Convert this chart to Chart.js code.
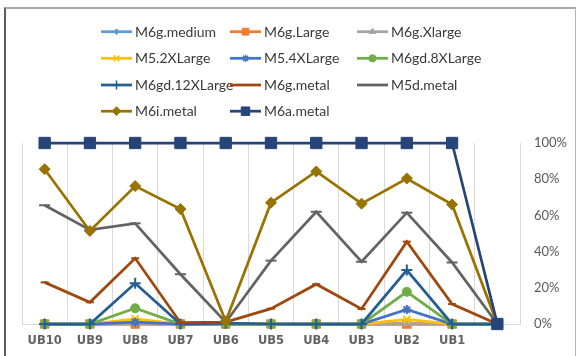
<!DOCTYPE html>
<html>
<head>
<meta charset="utf-8">
<script src="https://cdn.jsdelivr.net/npm/chart.js@4/dist/chart.umd.min.js"></script>
<style>
  html, body { margin: 0; padding: 0; background: #fff; overflow: hidden; }
  #wrap { position: relative; width: 576px; height: 356px; }
  #c { position: absolute; left: 0; top: 0; }
  #frame {
    position: absolute; left: 4px; top: 7px; width: 569px; height: 360px;
    border-left: 2px solid #5e5e5e; border-top: 2px solid #a8a8a8; border-right: 1px solid #b4b4b4;
    pointer-events: none;
  }
</style>
</head>
<body>
<div id="wrap">
  <canvas id="c" width="576" height="356"></canvas>
  <div id="frame"></div>
</div>
<script>
// Categories (last slot intentionally unlabeled)
const categories = ['UB10', 'UB9', 'UB8', 'UB7', 'UB6', 'UB5', 'UB4', 'UB3', 'UB2', 'UB1', ''];

// Share per instance type, in percent
const m6gMedium    = [0, 0, 0, 0, 0, 0, 0, 0, 0, 0, 0];
const m6gLarge     = [0, 0, 0, 0, 0, 0, 0, 0, 0, 0, 0];
const m6gXlarge    = [0, 0, 0.5, 0, 0, 0, 0, 0, 0.5, 0, 0];
const m52XLarge    = [0, 0, 2.8, 0, 0, 0, 0, 0, 2.5, 0, 0];
const m54XLarge    = [0, 0, 1, 0, 0, 0, 0, 0, 8, 0, 0];
const m6gd8XLarge  = [0, 0, 8.7, 0, 0, 0, 0, 0, 17.8, 0, 0];
const m6gd12XLarge = [0, 0, 22.5, 0, 0.5, 0, 0, 0, 29.8, 0, 0];
const m6gMetal     = [23, 12, 36.3, 0.7, 1, 8.5, 22, 8.3, 45.5, 11, 0];
const m5dMetal     = [65.6, 52, 55.6, 27.5, 1, 35, 62, 34.4, 61.5, 34, 0];
const m6iMetal     = [85.5, 51.4, 76.2, 63.5, 1.5, 67, 84.3, 66.5, 80.4, 66, 0];
const m6aMetal     = [100, 100, 100, 100, 100, 100, 100, 100, 100, 100, 0];

// Y-axis tick values
const yTicks = [0, 20, 40, 60, 80, 100];

const seriesDefs = [
  { label: 'M6g.medium',    data: m6gMedium,    color: '#5B9BD5', style: 'rectRot',  r: 3.5 },
  { label: 'M6g.Large',     data: m6gLarge,     color: '#ED7D31', style: 'rect',     r: 6 },
  { label: 'M6g.Xlarge',    data: m6gXlarge,    color: '#A5A5A5', style: 'triangle', r: 4.5 },
  { label: 'M5.2XLarge',    data: m52XLarge,    color: '#FFC000', style: 'crossRot', r: 5 },
  { label: 'M5.4XLarge',    data: m54XLarge,    color: '#4472C4', style: 'star',     r: 4.5 },
  { label: 'M6gd.8XLarge',  data: m6gd8XLarge,  color: '#70AD47', style: 'circle',   r: 4.5 },
  { label: 'M6gd.12XLarge', data: m6gd12XLarge, color: '#255E91', style: 'cross',    r: 5.5 },
  { label: 'M6g.metal',     data: m6gMetal,     color: '#9E480E', style: 'line',     r: 4 },
  { label: 'M5d.metal',     data: m5dMetal,     color: '#636363', style: 'line',     r: 5.5 },
  { label: 'M6i.metal',     data: m6iMetal,     color: '#997300', style: 'rectRot',  r: 5.5 },
  { label: 'M6a.metal',     data: m6aMetal,     color: '#264478', style: 'rect',     r: 8 }
];

const thinStyles = ['cross', 'crossRot', 'star', 'line'];

const datasets = seriesDefs.map((s, i) => ({
  label: s.label,
  data: s.data,
  borderColor: s.color,
  backgroundColor: s.color,
  borderWidth: 2.75,
  pointStyle: s.style,
  pointRadius: s.r,
  pointBorderWidth: thinStyles.includes(s.style) ? 2 : 1,
  pointBackgroundColor: s.color,
  pointBorderColor: s.color,
  tension: 0,
  clip: false,
  order: seriesDefs.length - 1 - i
}));

// Three-column legend drawn across the top
const gridLegend = {
  id: 'gridLegend',
  afterDraw(chart) {
    const ctx = chart.ctx;
    const colX = [101, 230, 357];
    const rowY = [31.7, 58.3, 85, 111.2];
    const sampleLen = 31;
    ctx.save();
    seriesDefs.forEach((s, i) => {
      const x = colX[i % 3];
      const y = rowY[Math.floor(i / 3)];
      ctx.strokeStyle = s.color;
      ctx.lineWidth = 2.75;
      ctx.beginPath();
      ctx.moveTo(x, y);
      ctx.lineTo(x + sampleLen, y);
      ctx.stroke();
      ctx.fillStyle = s.color;
      ctx.lineWidth = thinStyles.includes(s.style) ? 1.5 : 1;
      Chart.helpers.drawPoint(ctx, { pointStyle: s.style, radius: Math.min(s.r * 0.8, 6), rotation: 0, borderWidth: 1 }, x + sampleLen / 2, y);
      ctx.fillStyle = '#3a3a3a';
      ctx.font = '14px Lato, "Open Sans", sans-serif';
      ctx.textBaseline = 'middle';
      ctx.textAlign = 'left';
      ctx.fillText(s.label, x + sampleLen + 3, y + 0.5);
    });
    ctx.restore();
  }
};

new Chart(document.getElementById('c'), {
  type: 'line',
  data: { labels: categories, datasets },
  options: {
    responsive: false,
    animation: false,
    layout: { padding: { left: 22, top: 143, right: 0, bottom: 0 } },
    plugins: { legend: { display: false }, tooltip: { enabled: false } },
    scales: {
      x: {
        offset: true,
        grid: { offset: true, color: '#D9D9D9', lineWidth: 1, drawTicks: false },
        border: { color: '#D9D9D9' },
        ticks: {
          color: '#626262',
          font: { family: '"DejaVu Sans", sans-serif', size: 11.5, weight: 'bold' },
          padding: 10,
          maxRotation: 0,
          autoSkip: false
        },
        afterFit(scale) { scale.height = 32; }
      },
      y: {
        position: 'right',
        min: 0,
        max: 100,
        afterBuildTicks(scale) { scale.ticks = yTicks.map(v => ({ value: v })); },
        grid: {
          drawTicks: false,
          color: (c) => (c.tick && c.tick.value === 0) ? '#D9D9D9' : 'rgba(0,0,0,0)'
        },
        border: { color: '#D9D9D9' },
        ticks: {
          color: '#595959',
          font: { family: 'Lato, "Open Sans", sans-serif', size: 13 },
          padding: 14,
          callback: (v) => v + '%'
        },
        afterFit(scale) { scale.width = 56; }
      }
    }
  },
  plugins: [gridLegend]
});
</script>
</body>
</html>
